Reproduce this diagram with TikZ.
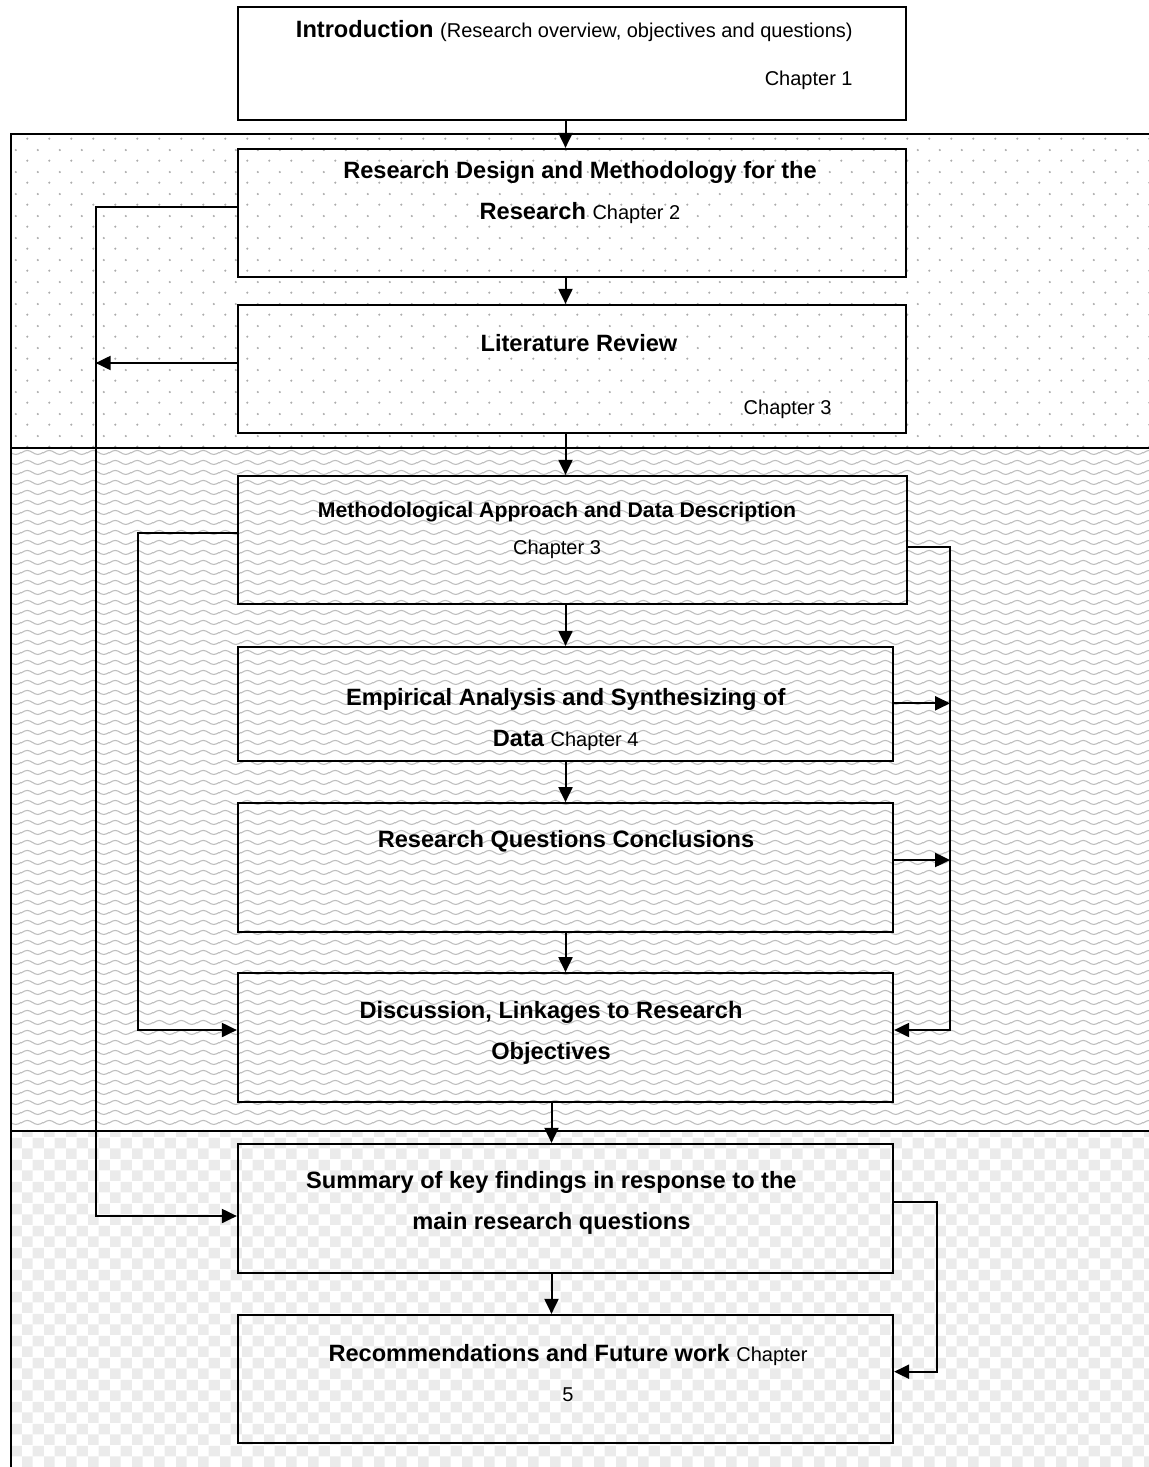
\documentclass[tikz,border=0pt]{standalone}
\usepackage{fontspec}
\setmainfont{Liberation Sans}
\usetikzlibrary{arrows.meta,patterns.meta}

\newcommand{\chapfont}{\mdseries\fontsize{10}{20.5}\selectfont}

% background fills of the three bands
\tikzdeclarepattern{
  name=dotgrid,
  type=colored,
  bottom left={(0pt,0pt)},
  top right={(10.75pt,10.8pt)},
  tile size={(10.75pt,10.8pt)},
  code={
    \fill[gray!65] (2.7pt,2.7pt) circle (0.6pt);
    \fill[gray!65] (8.075pt,8.1pt) circle (0.6pt);
  }
}
\tikzdeclarepattern{
  name=wavegrid,
  type=colored,
  bottom left={(0pt,0pt)},
  top right={(10.75pt,5pt)},
  tile size={(10.75pt,5pt)},
  code={
    \draw[gray!50, line width=0.6pt] (0pt,2.5pt) sin (2.6875pt,3.6pt) cos (5.375pt,2.5pt) sin (8.0625pt,1.4pt) cos (10.75pt,2.5pt);
  }
}
\tikzdeclarepattern{
  name=checkgrid,
  type=colored,
  bottom left={(0pt,0pt)},
  top right={(11pt,11pt)},
  tile size={(11pt,11pt)},
  code={
    \fill[gray!16] (0pt,0pt) rectangle (5.5pt,5.5pt);
    \fill[gray!16] (5.5pt,5.5pt) rectangle (11pt,11pt);
  }
}

\begin{document}
\begin{tikzpicture}[
    x=0.5pt, y=-0.5pt,
    >={Triangle[length=7.5pt, width=7pt]},
    box/.style={draw, line width=1.1pt, inner sep=0pt, minimum width=327.5pt, minimum height=64pt},
    widebox/.style={box, minimum width=334pt},
    txt/.style={font=\bfseries\fontsize{11.8}{20.5}\selectfont, align=center, inner sep=0pt},
    chaptxt/.style={font=\chapfont, inner sep=0pt},
    bandline/.style={line width=1.1pt},
    link/.style={->, line width=1pt},
]
    \useasboundingbox (0,0) rectangle (1149,1467);
    \clip (0,0) rectangle (1149,1467);

    % =====================================================================
    % BANDS
    % =====================================================================
    \fill[pattern=dotgrid] (11,134.3) rectangle (1200,447.7);
    \fill[pattern=wavegrid] (11,447.7) rectangle (1200,1130.7);
    \fill[pattern=checkgrid] (11,1130.7) rectangle (1200,1500);
    \draw[bandline] (11,134.3) rectangle (1200,1500);
    \draw[bandline] (11,447.7) -- (1200,447.7);
    \draw[bandline] (11,1130.7) -- (1200,1130.7);

    % spines of the vertical arrows
    \coordinate (spine) at (565.5,0);
    \coordinate (spineb) at (551.5,0);

    % =====================================================================
    % BOXES
    % =====================================================================
    \node[widebox, minimum height=56.5pt] (intro) at (572,63.5) {};
    \node[widebox] (design) at (572,213) {};
    \node[widebox] (litrev) at (572,369) {};
    \node[widebox, minimum width=334.5pt] (method) at (572.5,540) {};
    \node[box, minimum height=57pt] (empir) at (565.5,704) {};
    \node[box, minimum height=64.25pt] (rqconc) at (565.5,867.5) {};
    \node[box, minimum height=64.25pt] (discuss) at (565.5,1037.5) {};
    \node[box, minimum height=64.5pt] (summary) at (565.5,1208.5) {};
    \node[box] (recomm) at (565.5,1379) {};

    % texts
    \node[txt, align=right, anchor=east] (introtxt) at (853,55)
        {Introduction {\chapfont (Research overview, objectives and questions)}\\[3.5pt] {\chapfont Chapter 1}};
    \node[txt] (designtxt) at (580,192.8)
        {Research Design and Methodology for the\\Research {\chapfont Chapter 2}};
    \node[txt] (litrevtxt) at (579,342.7) {Literature Review};
    \node[chaptxt] (litrevchap) at (787.6,409.3) {Chapter 3};
    \node[txt, font=\bfseries\fontsize{10.6}{18.35}\selectfont] (methodtxt) at (557,530.6)
        {Methodological Approach and Data Description\\{\chapfont Chapter 3}};
    \node[txt] (empirtxt) at (565.7,719.5)
        {Empirical Analysis and Synthesizing of\\Data {\chapfont Chapter 4}};
    \node[txt] (rqconctxt) at (566,841) {Research Questions Conclusions};
    \node[txt] (discusstxt) at (551,1032.5)
        {Discussion, Linkages to Research\\Objectives};
    \node[txt] (summarytxt) at (551.4,1203)
        {Summary of key findings in response to the\\main research questions};
    \node[txt] (recommtxt) at (568,1373.3)
        {Recommendations and Future work {\chapfont Chapter}\\[-0.5pt]{\chapfont 5}};

    % =====================================================================
    % CONNECTORS
    % =====================================================================
    % main chain
    \draw[link] (intro.south -| spine) -- (design.north -| spine);
    \draw[link] (design.south -| spine) -- (litrev.north -| spine);
    \draw[link] (litrev.south -| spine) -- (method.north -| spine);
    \draw[link] (method.south -| spine) -- (empir.north -| spine);
    \draw[link] (empir.south -| spine) -- (rqconc.north -| spine);
    \draw[link] (rqconc.south -| spine) -- (discuss.north -| spine);
    \draw[link] (discuss.south -| spineb) -- (summary.north -| spineb);
    \draw[link] (summary.south -| spineb) -- (recomm.north -| spineb);

    % outer left loop
    \draw[link] ([shift={(0,-6.3)}]design.west) -- ++(-141.3,0) |- ([shift={(0,7.5)}]summary.west);
    \draw[link] ([shift={(0,-6)}]litrev.west) -- ++(-141.3,0);

    % inner left loop
    \draw[link] ([shift={(0,-7)}]method.west) -- ++(-99,0) |- ([shift={(0,-7.5)}]discuss.west);

    % right loop
    \draw[link] ([shift={(0,7)}]method.east) -- ++(42,0) |- ([shift={(0,-7.5)}]discuss.east);
    \draw[link] ([shift={(0,-0.7)}]empir.east) -- ++(56,0);
    \draw[link] ([shift={(0,-7.5)}]rqconc.east) -- ++(56,0);

    % bottom right loop
    \draw[link] ([shift={(0,-6.8)}]summary.east) -- ++(42.7,0) |- ([shift={(0,-7.3)}]recomm.east);

\end{tikzpicture}
\end{document}
